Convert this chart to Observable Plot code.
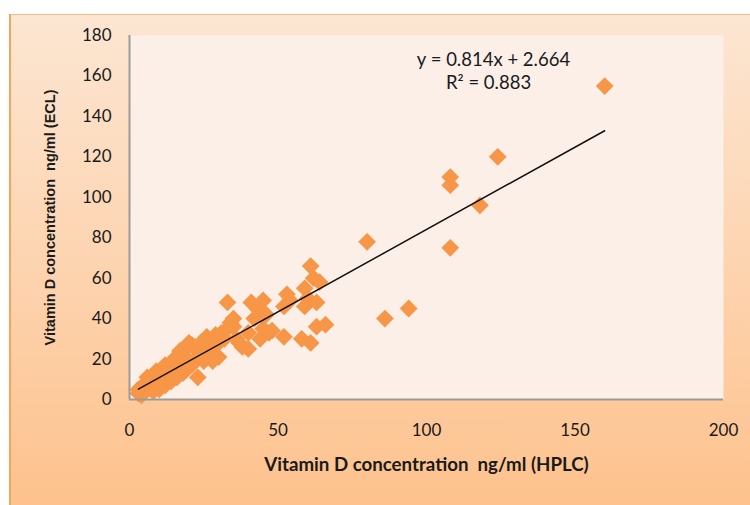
<!DOCTYPE html>
<html>
<head>
<meta charset="utf-8">
<script src="https://cdn.jsdelivr.net/npm/d3@7"></script>
<script src="https://cdn.jsdelivr.net/npm/@observablehq/plot@0.6"></script>
<style>
  html, body { margin: 0; padding: 0; background: #ffffff; }
  #wrap { position: relative; width: 750px; height: 505px; overflow: hidden; }
  #bg { position: absolute; left: 9px; top: 14px; right: 0; bottom: 0;
        background: linear-gradient(to bottom, #FCE6D2 0%, #FDD6B4 45%, #FDC28D 100%);
        border-left: 2px solid #F6A35B; border-top: 1px solid #F8BA86; }
  #chart { position: absolute; left: 0; top: 0; }
</style>
</head>
<body>
<div id="wrap"><div id="bg"></div><div id="chart"></div></div>
<script>
// HPLC (x) vs ECL (y), ng/ml
const hplc = [3,3,4,4,5,5,6,6,7,7,8,8,9,9,10,10,11,11,12,12,13,13,14,14,15,15,16,16,17,17,18,18,19,19,20,20,21,22,22,23,24,24,25,26,27,27,28,28,29,30,30,31,32,33,33,34,35,35,36,37,38,40,40,41,42,43,44,45,45,46,47,48,52,52,53,54,58,59,59,60,61,61,62,63,63,64,66,80,86,94,108,108,108,118,124,160,8,10,12,14,16,18,6,9,12,15,17,21,25];
const ecl  = [3,5,2,6,4,7,5,8,6,9,7,10,8,11,6,9,10,13,8,12,11,15,13,17,12,16,14,19,18,21,15,22,20,25,17,28,27,20,26,11,22,28,24,31,21,29,19,26,32,21,28,33,30,48,35,38,36,40,30,28,26,25,33,48,40,45,30,49,35,42,33,34,31,46,52,49,30,46,55,50,66,28,60,48,36,58,37,78,40,45,110,106,75,96,120,155,4,5,7,9,11,13,11,14,17,20,24,17,19];
// Linear trend shown on the chart
const slope = 0.814;
const intercept = 2.664;
const r2 = 0.883;
const xTicks = [0, 50, 100, 150, 200];
const yTicks = [0, 20, 40, 60, 80, 100, 120, 140, 160, 180];
const xTitle = "Vitamin D concentration  ng/ml (HPLC)";
const yTitle = "Vitamin D concentration  ng/ml (ECL)";

const points = hplc.map((x, i) => ({x, y: ecl[i]}));
const [xMin, xMax] = d3.extent(hplc);
const trend = [xMin, xMax].map(x => ({x, y: slope * x + intercept}));

const chart = Plot.plot({
  width: 750,
  height: 505,
  marginLeft: 129,
  marginRight: 27,
  marginTop: 35,
  marginBottom: 106,
  style: { background: "transparent", fontFamily: "Lato, sans-serif", fontSize: "17px", color: "#1a1a1a" },
  x: { domain: [0, 200], ticks: xTicks },
  y: { domain: [0, 180], ticks: yTicks },
  marks: [
    Plot.frame({ fill: "#FBEFE8", stroke: null }),
    Plot.axisX({ ticks: xTicks, tickSize: 0, tickPadding: 24, label: null, fontSize: 17 }),
    Plot.axisY({ ticks: yTicks, tickSize: 0, tickPadding: 18, label: null, fontSize: 17 }),
    Plot.dot(points, { x: "x", y: "y", symbol: "diamond2", r: 8, fill: "#F79646", stroke: null }),
    Plot.line(trend, { x: "x", y: "y", stroke: "#111", strokeWidth: 1.5 }),
    Plot.ruleX([0], { stroke: "#9B9B9B", strokeWidth: 2 }),
    Plot.ruleY([0], { stroke: "#9B9B9B", strokeWidth: 2 }),
    Plot.text([`y = ${slope}x + ${intercept}`], { frameAnchor: "top-left", textAnchor: "middle", dx: 364, dy: 17, fontSize: 18.5, fill: "#1a1a1a" }),
    Plot.text([`R² = ${r2}`], { frameAnchor: "top-left", textAnchor: "middle", dx: 359, dy: 40, fontSize: 18.5, fill: "#1a1a1a" }),
    Plot.text([xTitle], { frameAnchor: "bottom", dy: 71, fontSize: 18.7, fontWeight: "bold", fill: "#1a1a1a" }),
    Plot.text([yTitle], { frameAnchor: "left", textAnchor: "middle", dx: -79, rotate: -90, fontSize: 14.5, fontWeight: "bold", fill: "#1a1a1a", fontFamily: "Liberation Sans, Arial, sans-serif" })
  ]
});
document.getElementById("chart").appendChild(chart);
</script>
</body>
</html>
